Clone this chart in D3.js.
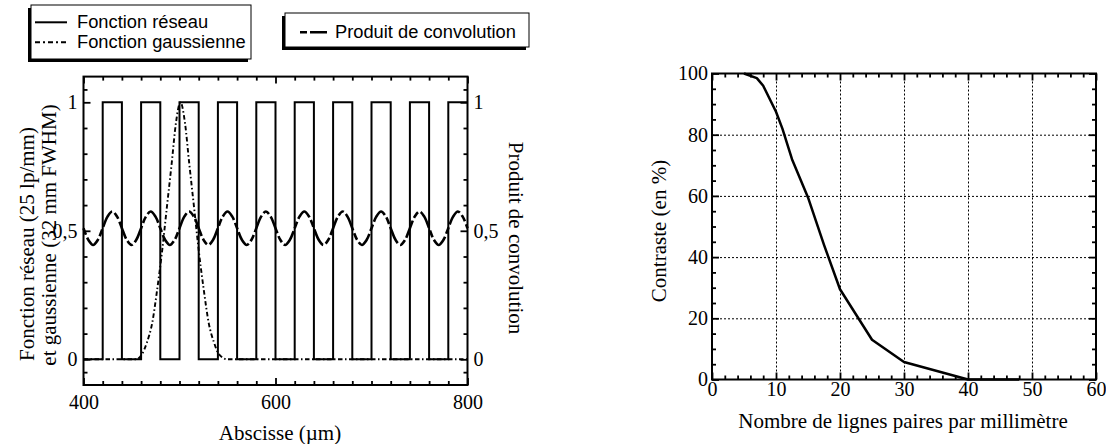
<!DOCTYPE html>
<html>
<head>
<meta charset="utf-8">
<script src="https://cdn.jsdelivr.net/npm/d3@7/dist/d3.min.js"></script>
<style>
  html, body { margin: 0; padding: 0; background: #fff; }
  svg { display: block; }
  .serif { font-family: "Liberation Serif", "Times New Roman", serif; }
  .sans { font-family: "Liberation Sans", Arial, sans-serif; }
</style>
</head>
<body>
<script>

// --- graphe de gauche : fonction réseau (25 lp/mm) ---
const reseauX = [400, 420, 440, 460, 480, 500, 520, 540, 560, 580, 600, 620, 640, 660, 680, 700, 720, 740, 760, 780, 800];
const reseauY = [0, 1, 0, 1, 0, 1, 0, 1, 0, 1, 0, 1, 0, 1, 0, 1, 0, 1, 0, 1, 1];

// fonction gaussienne
const gaussX = [400, 455, 461, 466, 471.5, 476.7, 482, 486.8, 491.8, 496.3, 501, 505.7, 510.2, 515.2, 520, 525.3, 530.5, 536, 541, 550, 800];
const gaussY = [0, 0, 0.02, 0.065, 0.14, 0.27, 0.425, 0.59, 0.76, 0.92, 1, 0.92, 0.76, 0.59, 0.425, 0.27, 0.14, 0.065, 0.02, 0, 0];

// produit de convolution, un point tous les 5 µm de 400 à 800
const convY = [
  0.51, 0.465, 0.445, 0.465, 0.51, 0.555, 0.575, 0.555,
  0.51, 0.465, 0.445, 0.465, 0.51, 0.555, 0.575, 0.555,
  0.51, 0.465, 0.445, 0.465, 0.51, 0.555, 0.575, 0.555,
  0.51, 0.465, 0.445, 0.465, 0.51, 0.555, 0.575, 0.555,
  0.51, 0.465, 0.445, 0.465, 0.51, 0.555, 0.575, 0.555,
  0.51, 0.465, 0.445, 0.465, 0.51, 0.555, 0.575, 0.555,
  0.51, 0.465, 0.445, 0.465, 0.51, 0.555, 0.575, 0.555,
  0.51, 0.465, 0.445, 0.465, 0.51, 0.555, 0.575, 0.555,
  0.51, 0.465, 0.445, 0.465, 0.51, 0.555, 0.575, 0.555,
  0.51, 0.465, 0.445, 0.465, 0.51, 0.555, 0.575, 0.555,
  0.51
];
const convX = d3.range(400, 801, 5);

const absTicks = [400, 600, 800];
const fonctionTicks = [0, 0.5, 1];

// --- graphe de droite : contraste ---
const lignesMm = [5, 7, 8, 10, 11, 12.5, 15, 17.5, 20, 25, 30, 40, 48];
const contraste = [100, 98.5, 96, 87.5, 82, 72, 59.5, 44, 29.5, 13, 5.7, 0, 0];
const lignesTicks = [0, 10, 20, 30, 40, 50, 60];
const contrasteTicks = [0, 20, 40, 60, 80, 100];

const W = 1106, H = 444;

const svg = d3.select("body")
  .append("svg")
  .attr("width", W)
  .attr("height", H);

const fmtVirgule = d => String(d).replace(".", ",");

// ticks vers l'intérieur sur les 4 côtés
const cadre = (g, x, y, major, minor, opt) => {
  const [x0, x1] = x.range();
  const [y0, y1] = y.range();
  const axes = [
    [d3.axisBottom(x), "translate(0," + y0 + ")", major.x, minor.x, opt.fx, opt.padX],
    [d3.axisTop(x), "translate(0," + y1 + ")", major.x, minor.x, null, 0],
    [d3.axisLeft(y), "translate(" + x0 + ",0)", major.y, minor.y, opt.fy, opt.padY],
    [d3.axisRight(y), "translate(" + x1 + ",0)", major.y, minor.y, opt.fyR, opt.padYR]
  ];
  axes.forEach(([ax, tr, maj, min, f, pad]) => {
    g.append("g")
      .attr("transform", tr)
      .call(ax.tickValues(min).tickSizeInner(-4).tickSizeOuter(0).tickFormat(""))
      .call(s => s.select(".domain").remove())
      .call(s => s.selectAll("line").attr("stroke-width", 1.8));
    const a = g.append("g")
      .attr("class", "serif")
      .attr("transform", tr)
      .call(ax.tickValues(maj).tickSizeInner(-7).tickSizeOuter(0).tickPadding(pad || 0).tickFormat(f || (() => "")))
      .call(s => s.select(".domain").remove())
      .call(s => s.selectAll("line").attr("stroke-width", 1.8));
    a.attr("font-family", null)
      .attr("font-size", 20)
      .selectAll("text").attr("fill", "#000");
  });
  g.append("rect")
    .attr("x", x0).attr("y", y1)
    .attr("width", x1 - x0).attr("height", y0 - y1)
    .attr("fill", "none")
    .attr("stroke", "#000")
    .attr("stroke-width", 2);
};

// ===== graphe de gauche =====
const xL = d3.scaleLinear().domain([400, 800]).range([83.5, 467.5]);
const yL = d3.scaleLinear().domain([-0.1, 1.1]).range([385, 76.6]);
const gL = svg.append("g");

gL.append("path")
  .datum(reseauX.map((d, i) => [d, reseauY[i]]))
  .attr("fill", "none")
  .attr("stroke", "#000")
  .attr("stroke-width", 2)
  .attr("d", d3.line().curve(d3.curveStepAfter).x(d => xL(d[0])).y(d => yL(d[1])));

gL.append("path")
  .datum(gaussX.map((d, i) => [d, gaussY[i]]))
  .attr("fill", "none")
  .attr("stroke", "#000")
  .attr("stroke-width", 1.9)
  .attr("stroke-dasharray", "4.5,2.5,1.5,2.5")
  .attr("d", d3.line().curve(d3.curveMonotoneX).x(d => xL(d[0])).y(d => yL(d[1])));

gL.append("path")
  .datum(convX.map((d, i) => [d, convY[i]]))
  .attr("fill", "none")
  .attr("stroke", "#000")
  .attr("stroke-width", 2.6)
  .attr("stroke-dasharray", "7,3,18,3")
  .attr("d", d3.line().curve(d3.curveCatmullRom).x(d => xL(d[0])).y(d => yL(d[1])));

cadre(gL, xL, yL,
  { x: absTicks, y: fonctionTicks },
  { x: d3.range(420, 800, 20).filter(d => d !== 600), y: [-0.05, 0.1, 0.2, 0.3, 0.4, 0.6, 0.7, 0.8, 0.9, 1.05] },
  { fx: d3.format("d"), padX: 10, fy: fmtVirgule, padY: 6, fyR: fmtVirgule, padYR: 6 });

gL.append("text")
  .attr("class", "serif")
  .attr("font-size", 21)
  .attr("text-anchor", "middle")
  .attr("x", 280).attr("y", 440)
  .text("Abscisse (µm)");

gL.append("text")
  .attr("class", "serif")
  .attr("font-size", 21)
  .attr("text-anchor", "middle")
  .attr("dominant-baseline", "central")
  .attr("transform", "translate(27,244) rotate(-90)")
  .text("Fonction réseau (25 lp/mm)");

gL.append("text")
  .attr("class", "serif")
  .attr("font-size", 21)
  .attr("text-anchor", "middle")
  .attr("dominant-baseline", "central")
  .attr("transform", "translate(49,235) rotate(-90)")
  .text("et gaussienne (32 mm FWHM)");

gL.append("text")
  .attr("class", "serif")
  .attr("font-size", 21)
  .attr("text-anchor", "middle")
  .attr("dominant-baseline", "central")
  .attr("transform", "translate(516,238) rotate(90)")
  .text("Produit de convolution");

// légendes
const legende = (x, y, w, h) => {
  svg.append("rect")
    .attr("x", x - 3).attr("y", y + 3)
    .attr("width", w).attr("height", h)
    .attr("fill", "#000");
  svg.append("rect")
    .attr("x", x).attr("y", y)
    .attr("width", w).attr("height", h)
    .attr("fill", "#fff")
    .attr("stroke", "#000")
    .attr("stroke-width", 1);
};
legende(31, 5, 220, 54);
legende(285, 13, 244, 34);

const items = [
  { x1: 35, x2: 67, y: 22.3, tx: 77, ty: 28.3, dash: null, w: 2, label: "Fonction réseau" },
  { x1: 35, x2: 67, y: 42.3, tx: 77, ty: 48.3, dash: "5,3,2,3", w: 2, label: "Fonction gaussienne" },
  { x1: 300, x2: 327, y: 32.3, tx: 335, ty: 38.3, dash: "7,3,18,3", w: 2.6, label: "Produit de convolution" }
];
items.forEach(it => {
  svg.append("line")
    .attr("x1", it.x1).attr("x2", it.x2)
    .attr("y1", it.y).attr("y2", it.y)
    .attr("stroke", "#000")
    .attr("stroke-width", it.w)
    .attr("stroke-dasharray", it.dash);
  svg.append("text")
    .attr("class", "sans")
    .attr("font-size", 18.3)
    .attr("x", it.tx).attr("y", it.ty)
    .text(it.label);
});

// ===== graphe de droite =====
const xR = d3.scaleLinear().domain([0, 60]).range([712, 1096]);
const yR = d3.scaleLinear().domain([0, 100]).range([379.5, 73.5]);
const gR = svg.append("g");

// grille pointillée
gR.append("g")
  .attr("transform", "translate(0," + yR(0) + ")")
  .call(d3.axisBottom(xR).tickValues([10, 20, 30, 40, 50]).tickSize(-(yR(0) - yR(100))).tickFormat(""))
  .call(s => s.select(".domain").remove())
  .call(s => s.selectAll("line").attr("stroke-dasharray", "2,2").attr("stroke-width", 1));
gR.append("g")
  .attr("transform", "translate(" + xR(0) + ",0)")
  .call(d3.axisLeft(yR).tickValues([20, 40, 60, 80]).tickSize(-(xR(60) - xR(0))).tickFormat(""))
  .call(s => s.select(".domain").remove())
  .call(s => s.selectAll("line").attr("stroke-dasharray", "2,2").attr("stroke-width", 1));

gR.append("path")
  .datum(lignesMm.map((d, i) => [d, contraste[i]]))
  .attr("fill", "none")
  .attr("stroke", "#000")
  .attr("stroke-width", 2.5)
  .attr("stroke-linejoin", "round")
  .attr("d", d3.line().x(d => xR(d[0])).y(d => yR(d[1])));

cadre(gR, xR, yR,
  { x: lignesTicks, y: contrasteTicks },
  { x: d3.range(2, 60, 2).filter(d => d % 10 !== 0), y: d3.range(5, 100, 5).filter(d => d % 20 !== 0) },
  { fx: d3.format("d"), padX: 2, fy: d3.format("d"), padY: 4, fyR: null, padYR: 0 });

gR.append("text")
  .attr("class", "serif")
  .attr("font-size", 21)
  .attr("text-anchor", "middle")
  .attr("x", 903).attr("y", 428)
  .text("Nombre de lignes paires par millimètre");

gR.append("text")
  .attr("class", "serif")
  .attr("font-size", 21)
  .attr("text-anchor", "middle")
  .attr("dominant-baseline", "central")
  .attr("transform", "translate(659,231) rotate(-90)")
  .text("Contraste (en %)");

</script>
</body>
</html>
